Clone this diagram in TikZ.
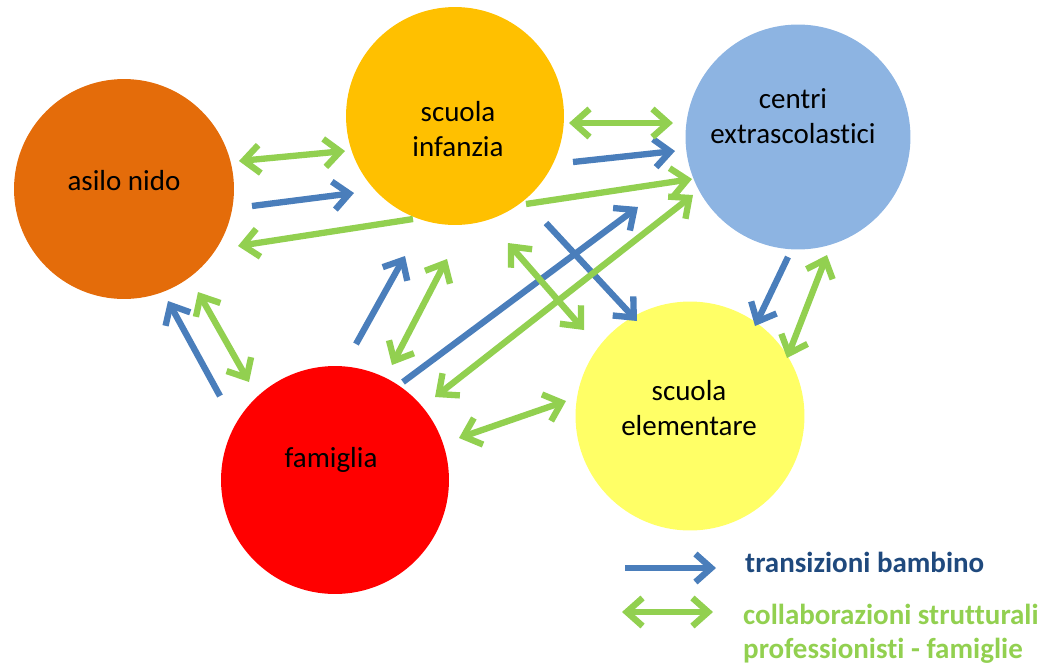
\documentclass[tikz,border=0pt]{standalone}
\usepackage{fontspec}
\setmainfont[Ligatures=NoCommon]{Carlito}
\usetikzlibrary{arrows.meta}
\definecolor{nido}{HTML}{E46C0A}
\definecolor{infanzia}{HTML}{FFC000}
\definecolor{centri}{HTML}{8DB4E2}
\definecolor{famiglia}{HTML}{FF0000}
\definecolor{elementare}{HTML}{FFFF66}
\definecolor{transblue}{HTML}{4A7EBB}
\definecolor{collgreen}{HTML}{92D050}
\definecolor{legblue}{HTML}{1F497D}
\tikzset{
  circ/.style={circle,inner sep=0pt,draw=none},
  lbl/.style={font=\fontsize{16.5}{19.5}\selectfont,align=center},
  legtext/.style={font=\fontsize{16.5}{19}\selectfont\bfseries,anchor=base west,align=left},
  barb/.tip={Straight Barb[length=9pt,width=16pt]},
  trans/.style={draw=transblue,line width=3.6pt,-barb},
  collab/.style={draw=collgreen,line width=3.6pt,barb-barb},
  collone/.style={draw=collgreen,line width=3.6pt,-barb}
}
\begin{document}
\begin{tikzpicture}[x=0.02cm,y=-0.02cm]
\useasboundingbox (0,0) rectangle (1059,664);
%circles
\node[circ,fill=nido,minimum size=4.4cm] (asilo) at (124,189) {};
\node[circ,fill=infanzia,minimum size=4.36cm] (infanzia) at (455,116) {};
\node[circ,fill=centri,minimum size=4.5cm] (centri) at (798,137) {};
\node[circ,fill=famiglia,minimum size=4.56cm] (famiglia) at (335,480) {};
\node[circ,fill=elementare,minimum size=4.58cm] (elementare) at (690,416) {};
%labels
\node[lbl,anchor=base] (asilo-t) at (124,190) {asilo nido};
\node[lbl,anchor=base] (infanzia-t) at (458,156) {scuola\\infanzia};
\node[lbl,anchor=base] (centri-t) at (793,143) {centri\\extrascolastici};
\node[lbl,anchor=base] (famiglia-t) at (331,467) {famiglia};
\node[lbl,anchor=base] (elementare-t) at (689,435) {scuola\\elementare};
%end points of the arrows
\foreach \n/\x/\y in {s-b1/252/206, e-b1/354/193, s-b2/573/162, e-b2/675/151,
  s-b3/546/223, e-b3/637/321, s-b4/403/382, e-b4/638/207,
  s-b5/356/344, e-b5/405/256, s-b6/220/396, e-b6/168/301,
  s-b7/788/257, e-b7/755/326}
  \coordinate (\n) at (\x,\y);
\foreach \n/\x/\y in {s-g1/239/161, e-g1/345/151, s-g2/569/123, e-g2/673/123,
  s-g3/508/243, e-g3/584/330, s-g4/435/397, e-g4/693/195,
  s-g5/392/365, e-g5/447/259, s-g6/198/292, e-g6/249/382,
  s-g7/459/438, e-g7/566/401, s-g8/827/255, e-g8/787/358,
  s-g9/413/219, e-g9/238/246, s-g10/526/204, e-g10/692/179}
  \coordinate (\n) at (\x,\y);
%transitions of the child
\foreach \i in {1,...,7}
{
\draw[trans](s-b\i)--(e-b\i);
}
%collaborations
\foreach \i in {1,...,8}
{
\draw[collab](s-g\i)--(e-g\i);
}
\draw[collone](s-g9)--(e-g9);
\draw[collone](s-g10)--(e-g10);
%legend
\coordinate (leg-b1) at (625,568);
\coordinate (leg-b2) at (716,568);
\coordinate (leg-g1) at (622,612);
\coordinate (leg-g2) at (713,612);
\draw[trans](leg-b1)--(leg-b2);
\draw[collab](leg-g1)--(leg-g2);
\node[legtext,text=legblue] (leg-trans) at (739,572) {transizioni bambino};
\node[legtext,text=collgreen] (leg-coll) at (737,658) {collaborazioni strutturali\\professionisti - famiglie};
\end{tikzpicture}
\end{document}
